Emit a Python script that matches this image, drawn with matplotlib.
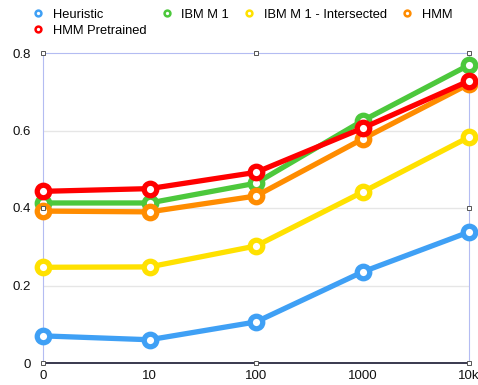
import numpy as np
import matplotlib.pyplot as plt

plt.rcParams['font.family'] = ['Liberation Sans', 'DejaVu Sans']

# etiquetas del eje x (tamaño del conjunto de entrenamiento)
etiquetas_x = ['0', '10', '100', '1000', '10k']

heuristic = [0.070, 0.060, 0.106, 0.235, 0.338]
ibm_m1 = [0.413, 0.413, 0.464, 0.625, 0.769]
ibm_m1_inter = [0.247, 0.248, 0.302, 0.441, 0.583]
hmm = [0.392, 0.390, 0.431, 0.578, 0.720]
hmm_pre = [0.443, 0.450, 0.492, 0.606, 0.728]

series = [
    ('Heuristic', heuristic, '#3fa0f5'),
    ('IBM M 1', ibm_m1, '#4cc83c'),
    ('IBM M 1 - Intersected', ibm_m1_inter, '#ffe100'),
    ('HMM', hmm, '#ff8c00'),
    ('HMM Pretrained', hmm_pre, '#ff0000'),
]

fig = plt.figure(figsize=(4.78, 3.85), dpi=100)
ax = fig.add_axes([43 / 478, 1 - 363 / 385, 426 / 478, 310 / 385])

pos = np.arange(len(etiquetas_x))

# líneas de la cuadrícula
for g in [0.2, 0.4, 0.6]:
    ax.axhline(g, color='#e6e6e6', lw=1.0, zorder=0)

# orden de dibujo: el rojo queda por encima del naranja, el verde arriba
orden = [0, 2, 3, 4, 1]
for i in orden:
    nombre, vals, col = series[i]
    ax.plot(pos, vals, color=col, lw=3.8, marker='o', markersize=9,
            markerfacecolor='white', markeredgecolor=col, markeredgewidth=3.8,
            clip_on=False, zorder=3 + i)

# leyenda: matplotlib llena por columnas, así que reordeno para que salga por filas
handles = {}
for nombre, vals, col in series:
    h, = ax.plot([], [], ls='none', marker='o', markersize=4.2,
                 markerfacecolor='white', markeredgecolor=col,
                 markeredgewidth=1.8, label=nombre)
    handles[nombre] = h
orden_ley = ['Heuristic', 'HMM Pretrained', 'IBM M 1', 'IBM M 1 - Intersected', 'HMM']
fig.legend(handles=[handles[n] for n in orden_ley], loc='upper left',
           bbox_to_anchor=(0.057, 0.997), ncol=4, frameon=False, fontsize=9.3,
           handlelength=0.5, handletextpad=0.9, columnspacing=1.3,
           labelspacing=0.3, borderaxespad=0.2)

ax.set_xlim(0, 4)
ax.set_ylim(0, 0.8)
ax.set_xticks(pos)
ax.set_xticklabels(etiquetas_x)
ax.set_yticks([0, 0.2, 0.4, 0.6, 0.8])
ax.set_yticklabels(['0', '0.2', '0.4', '0.6', '0.8'])
ax.tick_params(length=0, labelsize=9.5, colors='#111111', pad=5)
ax.tick_params(axis='y', pad=9)

for lado in ['left', 'top', 'right']:
    ax.spines[lado].set_color('#b4bcf2')
    ax.spines[lado].set_linewidth(0.8)
ax.spines['bottom'].set_color('#161630')
ax.spines['bottom'].set_linewidth(1.2)

# manijas de selección
hx = [0, 2, 4, 4, 4, 2, 0, 0]
hy = [0.8, 0.8, 0.8, 0.4, 0, 0, 0, 0.4]
ax.plot(hx, hy, ls='none', marker='s', markersize=3.2,
        markerfacecolor='white', markeredgecolor='#555555',
        markeredgewidth=0.7, clip_on=False, zorder=20)

fig.savefig('out.png', dpi=100)
